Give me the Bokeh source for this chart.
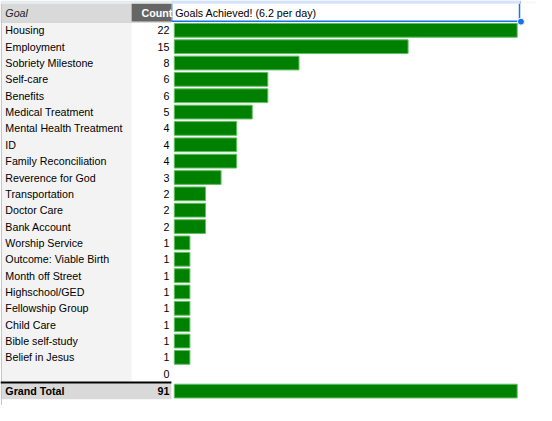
from bokeh.plotting import figure
from bokeh.models import Range1d
from bokeh.core.properties import value
from bokeh.embed import file_html
from bokeh.resources import INLINE

# ---- data ----
goals = ["Housing", "Employment", "Sobriety Milestone", "Self-care", "Benefits",
         "Medical Treatment", "Mental Health Treatment", "ID", "Family Reconciliation",
         "Reverence for God", "Transportation", "Doctor Care", "Bank Account",
         "Worship Service", "Outcome: Viable Birth", "Month off Street", "Highschool/GED",
         "Fellowship Group", "Child Care", "Bible self-study", "Belief in Jesus", ""]
counts = [22, 15, 8, 6, 6, 5, 4, 4, 4, 3, 2, 2, 2, 1, 1, 1, 1, 1, 1, 1, 1, 0]
total_label = "Grand Total"
grand_total = 91
header_goal = "Goal"
header_count = "Count"
header_chart = "Goals Achieved! (6.2 per day)"

# ---- layout (reference pixel frame 552x421) ----
REF_W, REF_H = 552, 421
BAR_X0 = 179.0          # px where bar value 0 sits
PX_PER_UNIT = 16.05     # px per count
ROW0 = 31.0             # px centre of first row
ROW_H = 17.0
FONT = value("Liberation Sans")
FS = "10.7px"

p = figure(width=536, height=405, output_backend="svg", toolbar_location=None,
           x_range=Range1d(-BAR_X0 / PX_PER_UNIT, (REF_W - BAR_X0) / PX_PER_UNIT),
           y_range=Range1d((REF_H - ROW0) / ROW_H, -ROW0 / ROW_H),
           min_border=0, outline_line_color=None, background_fill_color="white")
p.axis.visible = False
p.grid.visible = False
p.extra_x_ranges = {"px": Range1d(0, REF_W)}
p.extra_y_ranges = {"py": Range1d(REF_H, 0)}
PX = dict(x_range_name="px", y_range_name="py")

# ---- sheet decorations ----
p.quad(left=[0, 176], right=[535, 535], top=[0, 0], bottom=[3.5, 3.5],
       fill_color=["#e8eaed", "#d3e3fd"], line_color=None, **PX)
p.quad(left=[535], right=[REF_W], top=[0], bottom=[3.5], fill_color="#f8f9fa", line_color=None, **PX)
p.segment(x0=[535.5], y0=[0], x1=[535.5], y1=[3.5], line_color="#c0c0c0", line_width=1, **PX)
p.quad(left=[0, 135, 176], right=[135, 176, 535], top=[3.5, 3.5, 3.5], bottom=[22, 22, 22],
       fill_color=["#d9d9d9", "#666666", "#ffffff"], line_color=None, **PX)
p.quad(left=[1.5], right=[135], top=[22.5], bottom=[396], fill_color="#f3f3f3", line_color=None, **PX)
p.quad(left=[0], right=[176], top=[398], bottom=[414.5], fill_color="#d9d9d9", line_color=None, **PX)
p.segment(x0=[1, 0], y0=[3.5, 22.5], x1=[1, 176], y1=[421, 22.5],
          line_color="#c6c6c6", line_width=1, **PX)
p.segment(x0=[0], y0=[397], x1=[176], y1=[397], line_color="black", line_width=2, **PX)
p.segment(x0=[176.5, 176, 534.5], y0=[3.5, 21.5, 3.5], x1=[176.5, 535, 534.5], y1=[22, 21.5, 22],
          line_color="#1a73e8", line_width=[1, 1.5, 1.5], **PX)
p.scatter(x=[536], y=[22], size=7, fill_color="#1a73e8", line_color="white", line_width=1, **PX)

# ---- header texts ----
p.text(x=[5], y=[13], text=[header_goal], text_font=FONT, text_font_size=FS,
       text_font_style="italic", text_color="#222222", text_baseline="middle", **PX)
p.text(x=[177], y=[12.5], text=[header_count], text_font=FONT, text_font_size=FS,
       text_font_style="bold", text_color="white", text_align="right", text_baseline="middle", **PX)
p.text(x=[180], y=[13], text=[header_chart], text_font=FONT, text_font_size=FS,
       text_color="black", text_baseline="middle", **PX)

# ---- rows ----
rows = list(range(len(goals)))
count_text = [str(c) for c in counts]
p.text(x=[5] * len(goals), y=rows, text=goals, text_font=FONT, text_font_size=FS,
       text_color="black", text_baseline="middle", x_range_name="px")
p.text(x=[174] * len(goals), y=rows, text=count_text, text_font=FONT, text_font_size=FS,
       text_color="black", text_align="right", text_baseline="middle", x_range_name="px")

bar_rows = [r for r, c in zip(rows, counts) if c > 0]
bar_vals = [c for c in counts if c > 0]
p.hbar(y=bar_rows, left=0, right=bar_vals, height=0.84,
       fill_color="#008000", line_color="#5fbf5f", line_width=1)

# grand total row (sparkline capped at column max)
gt_row = len(goals)
spark_max = max(counts)
p.text(x=[5], y=[gt_row + 0.06], text=[total_label], text_font=FONT, text_font_size=FS,
       text_font_style="bold", text_color="black", text_baseline="middle", x_range_name="px")
p.text(x=[174], y=[gt_row + 0.06], text=[str(grand_total)], text_font=FONT, text_font_size=FS,
       text_font_style="bold", text_color="black", text_align="right", text_baseline="middle",
       x_range_name="px")
p.hbar(y=[gt_row + 0.06], left=0, right=[min(grand_total, spark_max)], height=0.84,
       fill_color="#008000", line_color="#5fbf5f", line_width=1)

open("out.html", "w").write(file_html(p, INLINE))
